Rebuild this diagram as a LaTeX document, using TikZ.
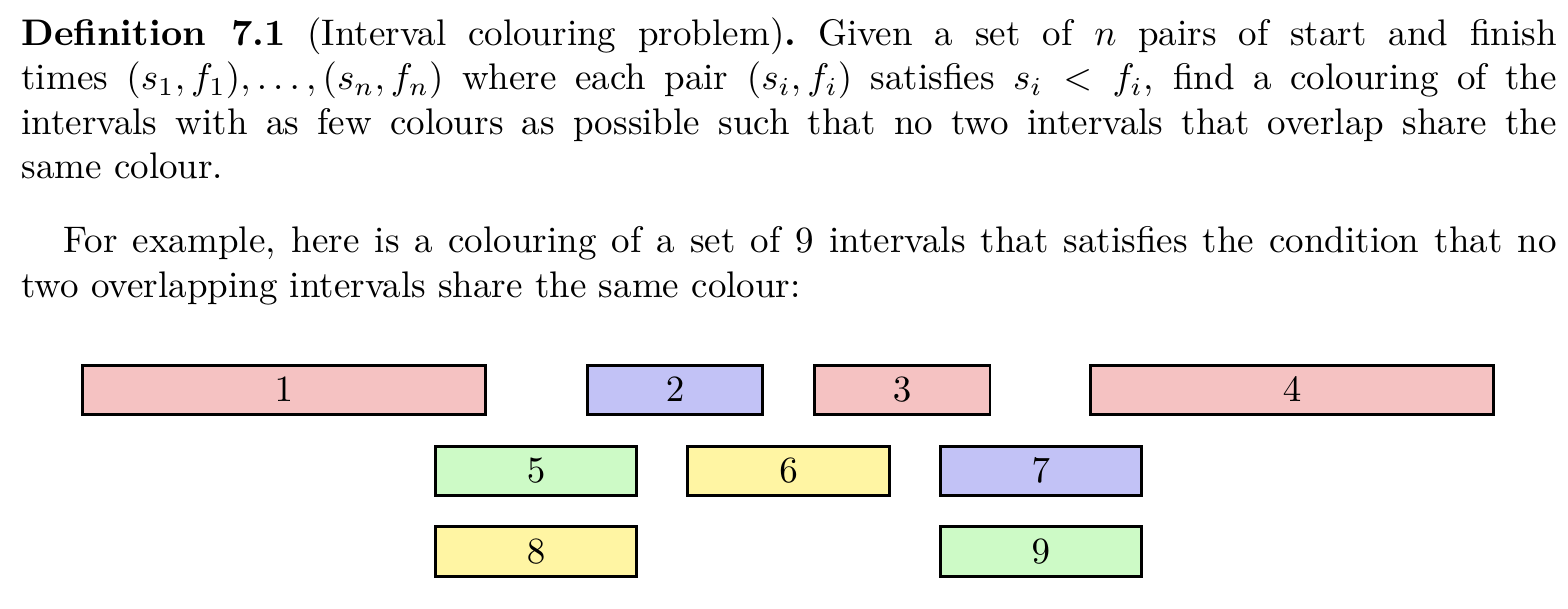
\documentclass[tikz,border=0pt]{standalone}
\usepackage{amsmath}
\definecolor{intred}{HTML}{F5C2C2}
\definecolor{intblue}{HTML}{C2C2F6}
\definecolor{intgreen}{HTML}{CDFAC6}
\definecolor{intyellow}{HTML}{FFF5A3}
\tikzset{
	interval/.style={draw,thick,minimum height=0.47cm,inner sep=0pt},
	redint/.style={interval,fill=intred},
	blueint/.style={interval,fill=intblue},
	greenint/.style={interval,fill=intgreen},
	yellowint/.style={interval,fill=intyellow},
	para/.style={anchor=base west,inner sep=0pt,text width=14.58cm,align=justify}
}
\begin{document}
\begin{tikzpicture}
	\useasboundingbox (0,0) rectangle (14.89,-5.774) ;
	\node[para] (defn) at (0.197,-0.432) {\textbf{Definition 7.1} (Interval colouring problem)\textbf{.}\ Given a set of $n$ pairs of start and finish\linebreak
	times $(s_1,f_1),\dots,(s_n,f_n)$ where each pair $(s_i,f_i)$ satisfies $s_i<f_i$, find a colouring of the\linebreak
	intervals with as few colours as possible such that no two intervals that overlap share the\linebreak
	same colour.} ;
	\node[para] (example) at (0.197,-2.40) {\hspace*{0.40cm}For example, here is a colouring of a set of 9 intervals that satisfies the condition that no\linebreak
	two overlapping intervals share the same colour:} ;
	% first row
	\node[redint,minimum width=3.83cm] (i1) at (2.696,-3.704) {$1$} ;
	\node[blueint,minimum width=1.67cm] (i2) at (6.410,-3.704) {$2$} ;
	\node[redint,minimum width=1.67cm] (i3) at (8.566,-3.704) {$3$} ;
	\node[redint,minimum width=3.83cm] (i4) at (12.270,-3.704) {$4$} ;
	% second row
	\node[greenint,minimum width=1.91cm] (i5) at (5.092,-4.473) {$5$} ;
	\node[yellowint,minimum width=1.91cm] (i6) at (7.488,-4.473) {$6$} ;
	\node[blueint,minimum width=1.91cm] (i7) at (9.884,-4.473) {$7$} ;
	% third row
	\node[yellowint,minimum width=1.91cm] (i8) at (5.092,-5.237) {$8$} ;
	\node[greenint,minimum width=1.91cm] (i9) at (9.884,-5.237) {$9$} ;
\end{tikzpicture}
\end{document}
